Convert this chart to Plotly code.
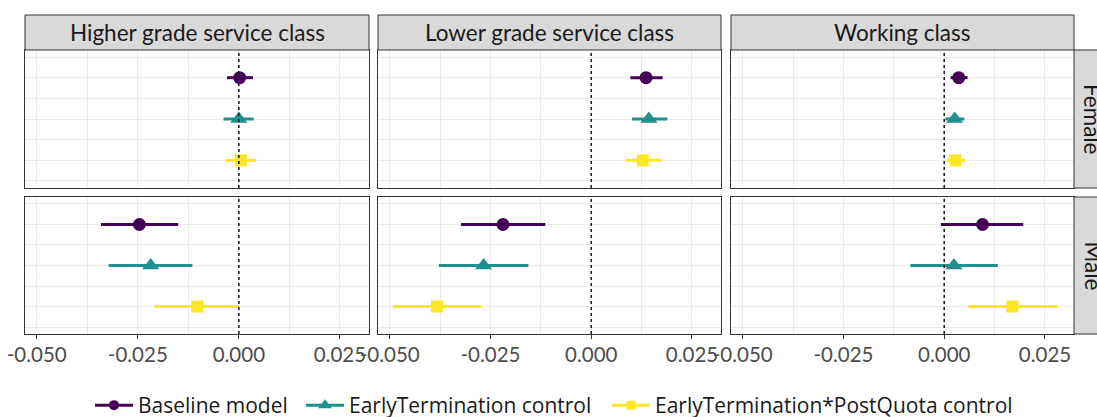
import plotly.graph_objects as go

classes = ["Higher grade service class", "Lower grade service class", "Working class"]
sexes = ["Female", "Male"]
models = ["Baseline model", "EarlyTermination control", "EarlyTermination*PostQuota control"]
model_pos = [1, 2, 3]
colors = ["#440154", "#21908C", "#FDE725"]
symbols = ["circle", "triangle-up", "square"]
marker_sizes = [13, 15, 12]
legend_marker_sizes = [10, 12, 9]

# panel order: Female-Higher, Female-Lower, Female-Working, Male-Higher, Male-Lower, Male-Working
baseline_est = [0.0002, 0.0136, 0.0036, -0.0246, -0.0219, 0.0095]
baseline_lo = [-0.0029, 0.0097, 0.0016, -0.0341, -0.0323, -0.0008]
baseline_hi = [0.0035, 0.0177, 0.0058, -0.0150, -0.0114, 0.0196]
early_est = [0.0000, 0.0143, 0.0026, -0.0218, -0.0267, 0.0024]
early_lo = [-0.0038, 0.0101, 0.0003, -0.0322, -0.0378, -0.0084]
early_hi = [0.0037, 0.0189, 0.0050, -0.0115, -0.0156, 0.0133]
quota_est = [0.0005, 0.0128, 0.0028, -0.0103, -0.0383, 0.0169]
quota_lo = [-0.0032, 0.0085, 0.0006, -0.0208, -0.0492, 0.0060]
quota_hi = [0.0043, 0.0173, 0.0052, 0.0000, -0.0273, 0.0280]

x_tickvals = [-0.05, -0.025, 0.0, 0.025]
x_ticktext = ["-0.050", "-0.025", "0.000", "0.025"]

ests = [baseline_est, early_est, quota_est]
los = [baseline_lo, early_lo, quota_lo]
his = [baseline_hi, early_hi, quota_hi]

W, H = 1097, 417
FONT = "Lato"
LEG_FONT = "Open Sans"
col_px = [(25, 369), (378, 721), (731, 1074)]
row_px = [(50, 188), (197, 334)]
strip_top = 15
strip_w = 35
legend_left_px = [90, 301, 607]
legend_mid_px = 405.5

def px_x(p):
    return p / W

def px_y(p):
    return 1 - p / H

fig = go.Figure()
layout = dict(
    width=W, height=H,
    margin=dict(l=0, r=0, t=0, b=0, autoexpand=False),
    paper_bgcolor="white", plot_bgcolor="white",
    font=dict(family=FONT, color="#1A1A1A"),
    showlegend=True,
)

shapes = []
annotations = []

for r, sex in enumerate(sexes):
    for c, cls in enumerate(classes):
        k = r * 3 + c + 1
        idx = r * 3 + c
        xa = "x" if k == 1 else f"x{k}"
        ya = "y" if k == 1 else f"y{k}"
        for m in range(3):
            e = ests[m][idx]
            lo = los[m][idx]
            hi = his[m][idx]
            fig.add_trace(go.Scatter(
                x=[e], y=[model_pos[m]], xaxis=xa, yaxis=ya,
                mode="markers",
                marker=dict(color=colors[m], symbol=symbols[m], size=marker_sizes[m], line=dict(width=0)),
                error_x=dict(type="data", symmetric=False, array=[hi - e], arrayminus=[e - lo],
                             color=colors[m], thickness=3, width=0),
                showlegend=False, hoverinfo="skip",
            ))
        x0, x1 = col_px[c]
        y0, y1 = row_px[r]
        layout[f"xaxis{k}"] = dict(
            domain=[px_x(x0), px_x(x1)], anchor=ya,
            range=[-0.0529, 0.0322],
            tickvals=x_tickvals, ticktext=x_ticktext,
            showticklabels=(r == 1),
            ticks="outside" if r == 1 else "", ticklen=4, tickcolor="#333333", tickwidth=1,
            ticklabelstandoff=-2,
            tickfont=dict(family=FONT, size=20.5, color="#4D4D4D"),
            showgrid=True, gridcolor="#EBEBEB", gridwidth=1.3,
            minor=dict(tickvals=[-0.0375, -0.0125, 0.0125], showgrid=True, gridcolor="#EBEBEB", gridwidth=0.8),
            zeroline=False,
            showline=True, mirror=True, linecolor="#333333", linewidth=1,
            automargin=False, fixedrange=True,
        )
        layout[f"yaxis{k}"] = dict(
            domain=[px_y(y1), px_y(y0)], anchor=xa,
            range=[3.67, 0.33],
            tickvals=model_pos, showticklabels=False, ticks="",
            showgrid=True, gridcolor="#EBEBEB", gridwidth=1.3,
            minor=dict(tickvals=[0.5, 1.5, 2.5, 3.5], showgrid=True, gridcolor="#EBEBEB", gridwidth=0.8),
            zeroline=False,
            showline=True, mirror=True, linecolor="#333333", linewidth=1,
            automargin=False, fixedrange=True,
        )
        # dotted zero reference line
        shapes.append(dict(type="line", xref=xa, yref=f"{ya} domain", x0=0, x1=0, y0=0, y1=1,
                           line=dict(color="#222222", width=1.6, dash="dot"), layer="above"))

# column strips
for c, cls in enumerate(classes):
    x0, x1 = col_px[c]
    shapes.append(dict(type="rect", xref="paper", yref="paper",
                       x0=px_x(x0), x1=px_x(x1), y0=px_y(row_px[0][0]), y1=px_y(strip_top),
                       fillcolor="#D9D9D9", line=dict(color="#333333", width=1)))
    annotations.append(dict(xref="paper", yref="paper", x=px_x((x0 + x1) / 2),
                            y=px_y((strip_top + row_px[0][0]) / 2), text=cls, showarrow=False,
                            font=dict(family=FONT, size=22.5, color="#1A1A1A"),
                            xanchor="center", yanchor="middle"))

# row strips
for r, sex in enumerate(sexes):
    y0, y1 = row_px[r]
    sx0 = col_px[2][1]
    shapes.append(dict(type="rect", xref="paper", yref="paper",
                       x0=px_x(sx0), x1=px_x(sx0 + strip_w), y0=px_y(y1), y1=px_y(y0),
                       fillcolor="#D9D9D9", line=dict(color="#333333", width=1)))
    annotations.append(dict(xref="paper", yref="paper", x=px_x(sx0 + 19),
                            y=px_y((y0 + y1) / 2), text=sex, showarrow=False, textangle=90,
                            font=dict(family=FONT, size=22.5, color="#1A1A1A"),
                            xanchor="center", yanchor="middle"))

# legend entries (one legend box per entry so spacing can follow the reference)
legend_names = ["legend", "legend2", "legend3"]
for m in range(3):
    fig.add_trace(go.Scatter(
        x=[None], y=[None], mode="lines+markers", name=models[m],
        marker=dict(color=colors[m], symbol=symbols[m], size=legend_marker_sizes[m]),
        line=dict(color=colors[m], width=3),
        showlegend=True, hoverinfo="skip", legend=legend_names[m],
    ))
    layout[legend_names[m]] = dict(
        orientation="h", x=px_x(legend_left_px[m]), xanchor="left",
        y=px_y(legend_mid_px), yanchor="middle",
        font=dict(family=LEG_FONT, size=21, color="#1A1A1A"),
        itemwidth=38, bgcolor="rgba(0,0,0,0)", borderwidth=0,
    )

layout["shapes"] = shapes
layout["annotations"] = annotations
fig.update_layout(**layout)
fig.write_html("out.html")
